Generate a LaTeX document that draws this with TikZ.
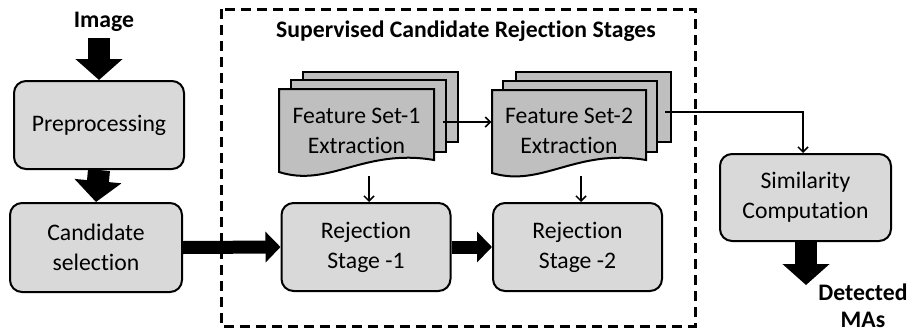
\documentclass[tikz,border=0pt]{standalone}
\usepackage{fontspec}
\setmainfont[RawFeature={-liga;-clig;-dlig}]{Carlito}
\usetikzlibrary{arrows.meta}
\definecolor{boxfill}{HTML}{D9D9D9}
\definecolor{docfill}{HTML}{BFBFBF}
\begin{document}
\begin{tikzpicture}[x=1pt,y=-1pt,
  every node/.style={font=\fontsize{23.7}{30}\selectfont, align=center},
  procbox/.style={draw=black, line width=2pt, fill=boxfill, rounded corners=12pt, inner sep=0pt},
  docshape/.style={draw=black, line width=2pt, fill=docfill, line join=miter},
  doctext/.style={inner sep=0pt, minimum width=155pt, minimum height=84pt},
  bigarrowv/.style={line width=22pt, -{Triangle[length=21pt,width=46pt]}},
  bigarrowh/.style={line width=13pt, -{Triangle[length=15pt,width=30pt]}},
  thinarrow/.style={line width=1.5pt, -{Straight Barb[length=5pt,width=10pt]}},
  groupbox/.style={draw=black, line width=3pt, dash pattern=on 10pt off 6pt},
  boldlabel/.style={font=\fontsize{23.7}{27}\selectfont\bfseries}]

\useasboundingbox (0,0) rectangle (912,335);

% group box
\draw[groupbox] (221,9) rectangle (695,326);
\node[boldlabel, anchor=base] (title) at (466,37) {Supervised Candidate Rejection Stages};

% process boxes
\node[procbox, minimum width=170pt, minimum height=88pt] (pre) at (99,125) {Preprocessing};
\node[procbox, minimum width=172pt, minimum height=89pt] (cand) at (96,247.5) {Candidate\\selection};
\node[procbox, minimum width=169pt, minimum height=88pt] (rs1) at (366,247) {Rejection\\Stage -1};
\node[procbox, minimum width=169pt, minimum height=88pt] (rs2) at (577.5,247) {Rejection\\Stage -2};
\node[procbox, minimum width=171pt, minimum height=87pt] (sim) at (805.5,197.5) {Similarity\\Computation};

% document stacks
\draw[docshape] (303,72) rectangle (458,142);
\draw[docshape] (291,80) rectangle (446,152);
\draw[docshape] (434,89) -- (279,89) -- (279,172) .. controls (329,188) and (364,148) .. (434,160) -- cycle;
\node[doctext] (fs1) at (356.5,131) {Feature Set-1\\Extraction};

\draw[docshape] (516,72) rectangle (671,142);
\draw[docshape] (503,81) rectangle (657,152);
\draw[docshape] (646,90) -- (492,90) -- (492,173) .. controls (542,188) and (576,148) .. (646,160) -- cycle;
\node[doctext] (fs2) at (569,131) {Feature Set-2\\Extraction};

% labels
\node[boldlabel, anchor=base] (img) at (104,27) {Image};
\node[boldlabel] (det) at (863,306) {Detected\\MAs};

% thick arrows
\coordinate (imgarr) at (99,38);
\coordinate (dettip) at (806,285);
\draw[bigarrowv] (imgarr) -- (pre.north);
\draw[bigarrowv] (pre.south) -- (cand.north);
\draw[bigarrowh] (cand.east) -- (rs1.west);
\draw[bigarrowh] (rs1.east) -- (rs2.west);
\draw[bigarrowv] ([xshift=0.5pt]sim.south) -- (dettip);

% thin arrows
\coordinate (fs1out) at (443,122);
\coordinate (fs2out) at (665,112);
\coordinate (fs1b) at (369,176);
\coordinate (fs2b) at (581,176);
\draw[thinarrow] (fs1out) -- (fs1out -| fs2.west);
\draw[thinarrow] (fs1b) -- (fs1b |- rs1.north);
\draw[thinarrow] (fs2b) -- (fs2b |- rs2.north);
\draw[thinarrow] (fs2out) -| ([xshift=-2.5pt]sim.north);
\end{tikzpicture}
\end{document}
